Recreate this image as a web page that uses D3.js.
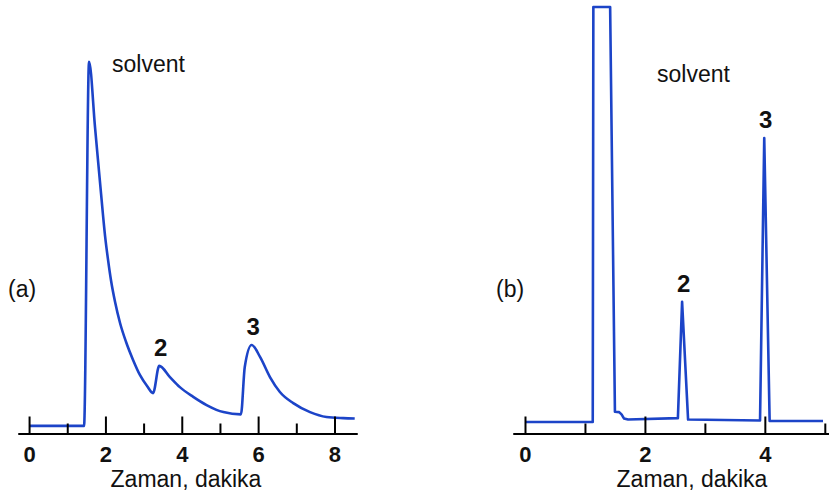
<!DOCTYPE html>
<html>
<head>
<meta charset="utf-8">
<script src="https://cdn.jsdelivr.net/npm/d3@7"></script>
<style>
  body { margin: 0; background: #fff; }
  svg { display: block; font-family: "Liberation Sans", Arial, sans-serif; }
</style>
</head>
<body>
<div class="chart"></div>
<script>
// chromatogram (a): time in minutes, detector signal (arbitrary units)
var timeA = [0, 1.44, 1.571, 1.729, 1.886, 1.991, 2.069, 2.148, 2.253, 2.383, 2.541, 2.724, 2.907, 3.091, 3.248,
             3.41, 3.69, 3.95, 4.30, 4.65, 5.09, 5.55, 5.65, 5.83, 6.05, 6.31, 6.57, 6.92, 7.36, 7.79, 8.23, 8.53];
var signalA = [1.9, 1.9, 99.5, 81.8, 64.1, 52.8, 46.4, 40.8, 35.1, 29.5, 24.4, 19.6, 15.5, 12.6, 10.7,
               18.0, 15.0, 12.3, 9.7, 7.5, 5.6, 5.0, 17.7, 23.6, 20.4, 15.0, 11.0, 8.0, 5.6, 4.3, 4.0, 3.9];

// chromatogram (b): solvent peak is off scale (flat top)
var timeB = [0, 1.13, 1.14, 1.42, 1.50, 1.57, 1.61, 1.65, 1.72, 2.55, 2.62, 2.72, 3.92, 3.99, 4.08, 4.97];
var signalB = [2.95, 2.95, 114.2, 114.2, 5.7, 5.6, 5.0, 3.9, 3.6, 4.0, 35.2, 3.6, 3.35, 79.1, 3.2, 3.2];

var panelNames = ["(a)", "(b)"];
var peakNames = ["2", "3"];
var peakTimesA = [3.41, 5.83];
var peakTimesB = [2.62, 3.99];
var solventLabel = "solvent";
var axisTitle = "Zaman, dakika";

var ticksA = [0, 1, 2, 3, 4, 5, 6, 7, 8];
var ticksB = [0, 1, 2, 3, 4, 5];

var lineColor = "#1c44c8";

var svg = d3.select(".chart").append("svg").attr("width", 829).attr("height", 500);

// shared signal scale
var y = d3.scaleLinear().domain([0, 100]).range([433, 60]);
var axisY = 433.5;

function toPoints(times, values) {
    return times.map(function (t, i) { return {t: t, v: values[i]}; });
}

function drawAxis(g, x, ticks) {
    var major = ticks.filter(function (d) { return d % 2 == 0; });
    var minor = ticks.filter(function (d) { return d % 2 != 0; });
    var minorAxis = d3.axisBottom(x).tickValues(minor).tickSize(-10).tickSizeOuter(0).tickFormat("");
    var majorAxis = d3.axisBottom(x).tickValues(major).tickSize(-17).tickSizeOuter(0).tickPadding(13)
                      .tickFormat(d3.format("d"));
    var gm = g.append("g").attr("transform", "translate(0," + axisY + ")").call(minorAxis);
    var gM = g.append("g").attr("transform", "translate(0," + axisY + ")").call(majorAxis);
    [gm, gM].forEach(function (a) {
        a.selectAll("path, line").attr("stroke", "#000").attr("stroke-width", 2);
    });
    gM.selectAll("text").attr("font-size", 22).attr("font-weight", "bold").attr("fill", "#111")
      .attr("font-family", "'Liberation Sans', Arial, sans-serif");
}

function drawPanel(opts) {
    var g = svg.append("g");
    var x = d3.scaleLinear().domain(opts.domain).range(opts.range);
    var data = toPoints(opts.times, opts.values);

    var line = d3.line()
        .x(function (d) { return x(d.t); })
        .y(function (d) { return y(d.v); })
        .curve(opts.curve);

    g.append("path").datum(data)
        .attr("d", line)
        .attr("fill", "none")
        .attr("stroke", lineColor)
        .attr("stroke-width", 2.6)
        .attr("stroke-linejoin", "round");

    drawAxis(g, x, opts.ticks);

    // peak numbers above each peak
    opts.peakTimes.forEach(function (pt, i) {
        var p = data.find(function (d) { return d.t == pt; });
        g.append("text")
            .attr("x", x(p.t) + 1.5)
            .attr("y", y(p.v) - 10)
            .attr("text-anchor", "middle")
            .attr("font-size", 24)
            .attr("font-weight", "bold")
            .attr("fill", "#111")
            .text(peakNames[i]);
    });

    g.append("text").attr("x", opts.solventPos[0]).attr("y", opts.solventPos[1])
        .attr("font-size", 23).attr("fill", "#111").text(solventLabel);
    g.append("text").attr("x", opts.namePos[0]).attr("y", opts.namePos[1])
        .attr("font-size", 23).attr("fill", "#111").text(opts.name);
    g.append("text").attr("x", opts.titleX).attr("y", 487)
        .attr("text-anchor", "middle").attr("font-size", 23).attr("fill", "#111").text(axisTitle);
}

drawPanel({
    name: panelNames[0], times: timeA, values: signalA, peakTimes: peakTimesA,
    domain: [-0.29, 8.59], range: [18, 357], ticks: ticksA, curve: d3.curveMonotoneX,
    solventPos: [112, 72], namePos: [8, 297], titleX: 186
});

drawPanel({
    name: panelNames[1], times: timeB, values: signalB, peakTimes: peakTimesB,
    domain: [-0.2, 5.07], range: [513, 829], ticks: ticksB, curve: d3.curveLinear,
    solventPos: [657, 82], namePos: [496, 297], titleX: 692
});
</script>
</body>
</html>
